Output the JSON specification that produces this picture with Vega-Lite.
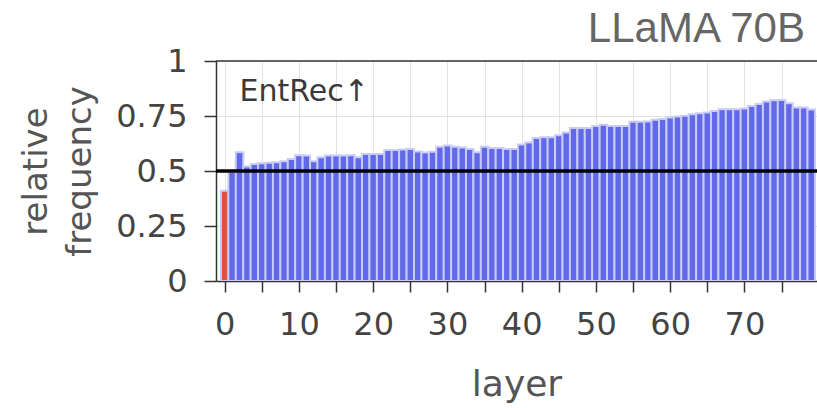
{
  "$schema": "https://vega.github.io/schema/vega-lite/v6.json",
  "width": 601,
  "height": 220,
  "autosize": "none",
  "padding": {"left": 216, "top": 61, "right": 0, "bottom": 127},
  "background": "white",
  "title": {
    "text": "LLaMA 70B",
    "anchor": "end",
    "orient": "top",
    "frame": "group",
    "font": "Liberation Sans",
    "fontSize": 42,
    "fontWeight": "normal",
    "color": "#666666",
    "dx": -12,
    "dy": 6,
    "offset": 0
  },
  "config": {
    "view": {"stroke": null},
    "axis": {
      "labelFont": "DejaVu Sans",
      "titleFont": "DejaVu Sans",
      "labelColor": "#444444",
      "titleColor": "#555555",
      "labelFontSize": 32,
      "titleFontSize": 34,
      "titleFontWeight": "normal",
      "domainColor": "#333333",
      "domainWidth": 1.5,
      "tickColor": "#333333",
      "tickWidth": 1.5,
      "gridColor": "#e2e2e2",
      "gridWidth": 1
    }
  },
  "data": {
    "values": [
      {"layer": 0, "freq": 0.41},
      {"layer": 1, "freq": 0.495},
      {"layer": 2, "freq": 0.585},
      {"layer": 3, "freq": 0.52},
      {"layer": 4, "freq": 0.532},
      {"layer": 5, "freq": 0.535},
      {"layer": 6, "freq": 0.538},
      {"layer": 7, "freq": 0.54},
      {"layer": 8, "freq": 0.544},
      {"layer": 9, "freq": 0.554},
      {"layer": 10, "freq": 0.572},
      {"layer": 11, "freq": 0.57},
      {"layer": 12, "freq": 0.544},
      {"layer": 13, "freq": 0.562},
      {"layer": 14, "freq": 0.571},
      {"layer": 15, "freq": 0.571},
      {"layer": 16, "freq": 0.571},
      {"layer": 17, "freq": 0.572},
      {"layer": 18, "freq": 0.562},
      {"layer": 19, "freq": 0.577},
      {"layer": 20, "freq": 0.577},
      {"layer": 21, "freq": 0.577},
      {"layer": 22, "freq": 0.595},
      {"layer": 23, "freq": 0.595},
      {"layer": 24, "freq": 0.598},
      {"layer": 25, "freq": 0.6},
      {"layer": 26, "freq": 0.589},
      {"layer": 27, "freq": 0.584},
      {"layer": 28, "freq": 0.588},
      {"layer": 29, "freq": 0.61},
      {"layer": 30, "freq": 0.616},
      {"layer": 31, "freq": 0.61},
      {"layer": 32, "freq": 0.607},
      {"layer": 33, "freq": 0.6},
      {"layer": 34, "freq": 0.585},
      {"layer": 35, "freq": 0.61},
      {"layer": 36, "freq": 0.604},
      {"layer": 37, "freq": 0.604},
      {"layer": 38, "freq": 0.6},
      {"layer": 39, "freq": 0.6},
      {"layer": 40, "freq": 0.62},
      {"layer": 41, "freq": 0.63},
      {"layer": 42, "freq": 0.65},
      {"layer": 43, "freq": 0.653},
      {"layer": 44, "freq": 0.653},
      {"layer": 45, "freq": 0.663},
      {"layer": 46, "freq": 0.675},
      {"layer": 47, "freq": 0.695},
      {"layer": 48, "freq": 0.695},
      {"layer": 49, "freq": 0.695},
      {"layer": 50, "freq": 0.705},
      {"layer": 51, "freq": 0.71},
      {"layer": 52, "freq": 0.705},
      {"layer": 53, "freq": 0.705},
      {"layer": 54, "freq": 0.705},
      {"layer": 55, "freq": 0.724},
      {"layer": 56, "freq": 0.724},
      {"layer": 57, "freq": 0.725},
      {"layer": 58, "freq": 0.733},
      {"layer": 59, "freq": 0.736},
      {"layer": 60, "freq": 0.743},
      {"layer": 61, "freq": 0.748},
      {"layer": 62, "freq": 0.751},
      {"layer": 63, "freq": 0.758},
      {"layer": 64, "freq": 0.763},
      {"layer": 65, "freq": 0.766},
      {"layer": 66, "freq": 0.773},
      {"layer": 67, "freq": 0.781},
      {"layer": 68, "freq": 0.781},
      {"layer": 69, "freq": 0.781},
      {"layer": 70, "freq": 0.784},
      {"layer": 71, "freq": 0.795},
      {"layer": 72, "freq": 0.804},
      {"layer": 73, "freq": 0.816},
      {"layer": 74, "freq": 0.822},
      {"layer": 75, "freq": 0.823},
      {"layer": 76, "freq": 0.808},
      {"layer": 77, "freq": 0.789},
      {"layer": 78, "freq": 0.789},
      {"layer": 79, "freq": 0.78}
    ]
  },
  "layer": [
    {
      "mark": {"type": "bar", "size": 7.55, "stroke": "#c9ccf7", "strokeWidth": 2, "clip": true},
      "encoding": {
        "x": {
          "field": "layer",
          "type": "quantitative",
          "scale": {"domain": [-0.5, 79.1], "nice": false, "zero": false},
          "axis": {
            "title": "layer",
            "values": [0, 5, 10, 15, 20, 25, 30, 35, 40, 45, 50, 55, 60, 65, 70, 75],
            "labelExpr": "datum.value % 10 === 0 ? datum.label : ''",
            "tickSize": 11,
            "labelPadding": 17,
            "titlePadding": 27,
            "titleFontSize": 36,
            "grid": true,
            "labelFlush": false,
            "labelOverlap": false
          }
        },
        "y": {
          "field": "freq",
          "type": "quantitative",
          "scale": {"domain": [0, 1], "nice": false},
          "axis": {
            "title": ["relative", "frequency"],
            "values": [0, 0.25, 0.5, 0.75, 1],
            "format": ".2~f",
            "tickSize": 12,
            "labelPadding": 17,
            "titlePadding": 18,
            "titleLineHeight": 44,
            "grid": true,
            "labelFlush": false,
            "labelOverlap": false
          }
        },
        "color": {
          "condition": {"test": "datum.layer === 0", "value": "#e2503e"},
          "value": "#6169e9"
        }
      }
    },
    {
      "data": {"values": [{}]},
      "mark": {"type": "rule", "color": "#000000", "strokeWidth": 3.5},
      "encoding": {"y": {"datum": 0.5, "type": "quantitative"}}
    },
    {
      "data": {"values": [{}]},
      "mark": {"type": "rule", "color": "#333333", "strokeWidth": 1.5},
      "encoding": {"y": {"datum": 1, "type": "quantitative"}}
    },
    {
      "data": {"values": [{}]},
      "mark": {"type": "text", "text": "EntRec↑", "font": "DejaVu Sans", "fontSize": 30, "color": "#3a3a3a", "align": "left", "baseline": "middle"},
      "encoding": {
        "x": {"datum": 2.0, "type": "quantitative"},
        "y": {"datum": 0.86, "type": "quantitative"}
      }
    }
  ]
}
